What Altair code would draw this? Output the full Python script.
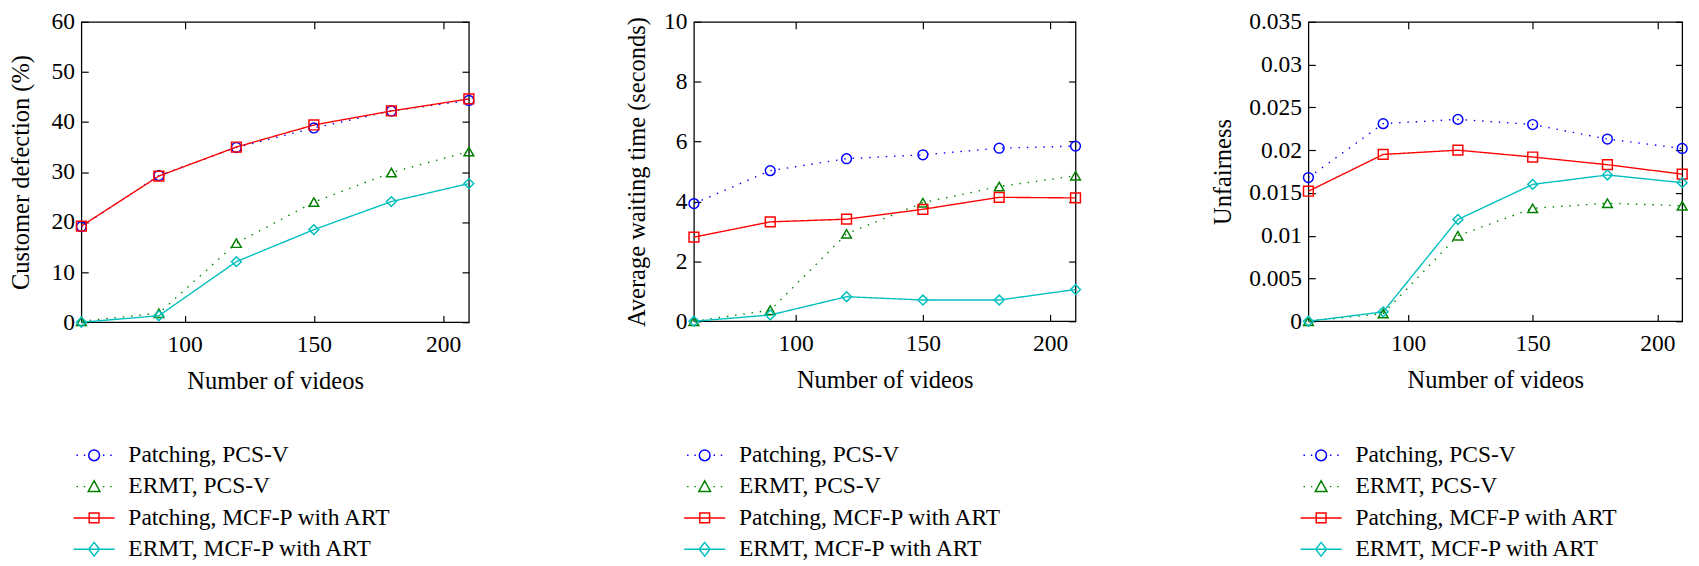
import altair as alt
import pandas as pd

# ---------------- data ----------------
videos = [60, 90, 120, 150, 180, 210]
series_names = ["Patching, PCS-V", "ERMT, PCS-V", "Patching, MCF-P with ART", "ERMT, MCF-P with ART"]

defection_patching_pcsv = [19.1, 29.3, 34.9, 38.8, 42.2, 44.3]
defection_ermt_pcsv = [0.2, 1.8, 15.8, 24.0, 29.9, 34.1]
defection_patching_mcfp = [19.2, 29.2, 35.0, 39.4, 42.2, 44.6]
defection_ermt_mcfp = [0.0, 1.3, 12.1, 18.5, 24.1, 27.7]

wait_patching_pcsv = [3.93, 5.03, 5.43, 5.56, 5.78, 5.85]
wait_ermt_pcsv = [0.0, 0.37, 2.92, 3.96, 4.50, 4.86]
wait_patching_mcfp = [2.81, 3.32, 3.41, 3.74, 4.14, 4.12]
wait_ermt_mcfp = [0.0, 0.21, 0.82, 0.71, 0.71, 1.06]

unfair_patching_pcsv = [0.0168, 0.0231, 0.0236, 0.0230, 0.0213, 0.0202]
unfair_ermt_pcsv = [0.0, 0.0009, 0.0100, 0.0132, 0.0138, 0.0135]
unfair_patching_mcfp = [0.0152, 0.0195, 0.0200, 0.0192, 0.0183, 0.0172]
unfair_ermt_mcfp = [0.0, 0.0011, 0.0119, 0.0160, 0.0171, 0.0162]

x_ticks = [100, 150, 200]
defection_ticks = [0, 10, 20, 30, 40, 50, 60]
wait_ticks = [0, 2, 4, 6, 8, 10]
unfair_ticks = [0, 0.005, 0.01, 0.015, 0.02, 0.025, 0.03, 0.035]

# ---------------- styles ----------------
FONT = "Liberation Serif"
series_colors = ["#0000FF", "#008000", "#FF0000", "#00BFBF"]
series_dashes = [[1.5, 7], [1.5, 7], [1, 0], [1, 0]]
marker_shapes = ["circle", "triangle-up", "square", "diamond"]
DOTS = "M-3.6,0h0.3M-2.1,0h0.3M1.8,0h0.3M3.3,0h0.3"
LINE = "M-4.2,0H4.2"
legend_paths = [
    DOTS + "M-1.1,0A1.1,1.1,0,1,0,1.1,0A1.1,1.1,0,1,0,-1.1,0Z",
    DOTS + "M0,-1.2L1.2,1L-1.2,1Z",
    LINE + "M-1,-1H1V1H-1Z",
    LINE + "M0,-1.4L1.1,0L0,1.4L-1.1,0Z",
]
INWARD = {"expr": "-7"}


def make_panel(series_values, y_title, y_domain, y_ticks, y_format, width, height,
               title_pad, legend_x):
    rows = []
    for name, vals in zip(series_names, series_values):
        for xv, yv in zip(videos, vals):
            rows.append({"videos": xv, "value": yv, "series": name})
    df = pd.DataFrame(rows)
    base = alt.Chart(df)

    xscale = alt.Scale(domain=[60, 210], nice=False, zero=False)
    yscale = alt.Scale(domain=y_domain, nice=False, zero=False)
    cscale = alt.Scale(domain=series_names, range=series_colors)

    lines = base.mark_line(strokeWidth=1.4).encode(
        x=alt.X("videos:Q", scale=xscale,
                axis=alt.Axis(orient="bottom", values=x_ticks, title="Number of videos",
                              tickSize=INWARD, labelPadding=18, titlePadding=13,
                              domain=False, grid=False)),
        y=alt.Y("value:Q", scale=yscale,
                axis=alt.Axis(orient="left", values=y_ticks, format=y_format, title=y_title,
                              tickSize=INWARD, labelPadding=14, titlePadding=title_pad,
                              domain=False, grid=False)),
        color=alt.Color("series:N", scale=cscale, legend=None),
        strokeDash=alt.StrokeDash("series:N",
                                  scale=alt.Scale(domain=series_names, range=series_dashes),
                                  legend=None),
    )

    points = base.mark_point(filled=False, strokeWidth=1.5, size=100, opacity=1).encode(
        x=alt.X("videos:Q", scale=xscale,
                axis=alt.Axis(orient="top", values=x_ticks, labels=False, title=None,
                              tickSize=INWARD, domain=False, grid=False)),
        y=alt.Y("value:Q", scale=yscale,
                axis=alt.Axis(orient="right", values=y_ticks, labels=False, title=None,
                              tickSize=INWARD, domain=False, grid=False)),
        color=alt.Color("series:N", scale=cscale, legend=None),
        shape=alt.Shape("series:N",
                        scale=alt.Scale(domain=series_names, range=marker_shapes),
                        legend=None),
    )

    leg = dict(orient="none", legendX=legend_x, legendY=431, title=None,
               labelFont=FONT, labelFontSize=24, labelColor="black", labelLimit=400,
               symbolSize=100, symbolStrokeWidth=1.5, labelOffset=23, rowPadding=8)
    legend_layer = base.mark_point(filled=False, strokeWidth=1.5, opacity=1).encode(
        color=alt.Color("series:N", scale=cscale, legend=alt.Legend(**leg)),
        shape=alt.Shape("series:N",
                        scale=alt.Scale(domain=series_names, range=legend_paths),
                        legend=alt.Legend(**leg)),
    ).transform_filter("false")

    return alt.layer(lines, points, legend_layer).resolve_scale(
        color="independent", shape="independent", strokeDash="independent"
    ).resolve_axis(x="independent", y="independent").properties(width=width, height=height)


p1 = make_panel([defection_patching_pcsv, defection_ermt_pcsv,
                 defection_patching_mcfp, defection_ermt_mcfp],
                "Customer defection (%)", [0, 60], defection_ticks, "d", 396, 307, 18, 1)
p2 = make_panel([wait_patching_pcsv, wait_ermt_pcsv,
                 wait_patching_mcfp, wait_ermt_mcfp],
                "Average waiting time (seconds)", [0, 10], wait_ticks, "d", 390, 306, 14, -1)
p3 = make_panel([unfair_patching_pcsv, unfair_ermt_pcsv,
                 unfair_patching_mcfp, unfair_ermt_mcfp],
                "Unfairness", [0, 0.035], unfair_ticks, "~g", 382, 306, 14, 1)

right_pair = alt.hconcat(p2, p3, spacing=128).resolve_scale(
    color="independent", shape="independent", strokeDash="independent"
)

chart = alt.hconcat(p1, right_pair, spacing=150).resolve_scale(
    color="independent", shape="independent", strokeDash="independent"
).properties(
    padding={"left": 0, "top": -5, "right": 0, "bottom": 0},
    background="white",
).configure_view(
    stroke="black", strokeWidth=1.3
).configure_axis(
    labelFont=FONT, labelFontSize=24, labelColor="black",
    titleFont=FONT, titleFontSize=25, titleFontWeight="normal", titleColor="black",
    tickColor="black", tickWidth=1.2
)

chart.save("out.html", embed_options={"renderer": "svg", "actions": False})
